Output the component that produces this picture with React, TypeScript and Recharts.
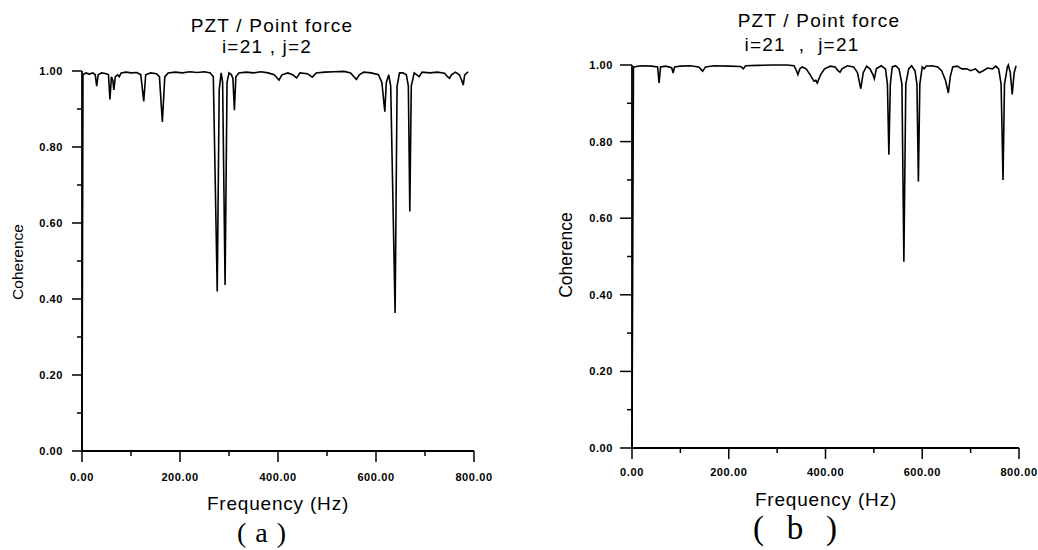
import React from 'react';
import { LineChart, Line, XAxis, YAxis } from 'recharts';

/* ─── Data ───────────────────────────────────────────── */

const X_TICKS = [0, 100, 200, 300, 400, 500, 600, 700, 800];
const Y_TICKS = [0, 0.1, 0.2, 0.3, 0.4, 0.5, 0.6, 0.7, 0.8, 0.9, 1.0];

// (a) i=21 , j=2
const freqA = [
	0, 2, 8, 15, 22, 27, 30, 33, 40, 50, 54, 57, 60, 63, 65, 68, 73, 76, 80, 90,
	100, 112, 120, 126, 130, 140, 152, 158, 164, 169, 176, 190, 205, 220, 235, 250,
	262, 268, 276, 280, 284, 287, 292, 296, 300, 305, 308, 311, 314, 320, 335, 350,
	365, 380, 392, 396, 402, 408, 420, 430, 438, 445, 460, 470, 478, 495, 515, 535,
	548, 555, 560, 566, 575, 590, 605, 612, 618, 621, 626, 630, 639, 643, 648, 655,
	662, 666, 669, 672, 678, 688, 694, 710, 725, 740, 746, 750, 754, 762, 770, 775,
	778, 781, 788,
];
const cohA = [
	0.0, 0.99, 0.995, 0.992, 0.995, 0.99, 0.96, 0.99, 0.995, 0.993, 0.99, 0.925, 0.985, 0.975, 0.95, 0.985, 0.99, 0.985, 0.995, 0.997,
	0.995, 0.996, 0.99, 0.92, 0.99, 0.995, 0.993, 0.985, 0.866, 0.985, 0.995, 0.997, 0.995, 0.998, 0.996, 0.998,
	0.995, 0.985, 0.42, 0.95, 0.995, 0.97, 0.437, 0.97, 0.995, 0.99, 0.98, 0.897, 0.985, 0.995, 0.997, 0.995,
	0.998, 0.995, 0.99, 0.985, 0.976, 0.99, 0.995, 0.99, 0.982, 0.995, 0.993, 0.984, 0.995, 0.997, 0.998, 0.999,
	0.995, 0.985, 0.978, 0.99, 0.997, 0.995, 0.99, 0.97, 0.893, 0.97, 0.99, 0.96, 0.363, 0.96, 0.995, 0.995,
	0.99, 0.96, 0.63, 0.96, 0.995, 0.985, 0.997, 0.995, 0.997, 0.994, 0.985, 0.981, 0.99, 0.997, 0.99, 0.975,
	0.963, 0.99, 0.998,
];

// (b) i=21 , j=21
const freqB = [
	0, 3, 20, 40, 53, 56, 59, 70, 82, 85, 88, 100, 120, 138, 146, 152, 170, 200, 225, 230,
	235, 260, 290, 320, 335, 340, 343, 347, 352, 360, 368, 376, 380, 383, 390, 398, 410, 420,
	426, 430, 434, 445, 458, 466, 473, 478, 485, 492, 498, 501, 505, 515, 524, 528, 531, 534,
	538, 545, 552, 558, 562, 566, 572, 578, 585, 589, 592, 595, 600, 604, 608, 620, 632, 640,
	648, 654, 658, 663, 672, 682, 692, 700, 710, 718, 726, 735, 745, 752, 758, 763, 767, 770,
	776, 778, 782, 786, 790, 794,
];
const cohB = [
	0.0, 0.995, 0.998, 0.997, 0.995, 0.953, 0.995, 0.997, 0.993, 0.979, 0.995, 0.997, 0.998, 0.995, 0.984, 0.995, 0.998, 0.997, 0.996, 0.99,
	0.998, 0.999, 1.0, 1.0, 0.998, 0.985, 0.975, 0.99, 0.995, 0.99, 0.975, 0.958, 0.96, 0.953, 0.975, 0.99, 0.997, 0.995,
	0.985, 0.981, 0.99, 0.998, 0.995, 0.98, 0.938, 0.98, 0.997, 0.99, 0.975, 0.964, 0.99, 0.998, 0.99, 0.95, 0.766, 0.95,
	0.995, 0.998, 0.99, 0.95, 0.486, 0.95, 0.99, 0.998, 0.985, 0.95, 0.696, 0.95, 0.995, 0.99, 0.997, 0.998, 0.995, 0.985,
	0.96, 0.927, 0.97, 0.995, 0.997, 0.99, 0.99, 0.985, 0.99, 0.98, 0.985, 0.992, 0.99, 0.997, 0.99, 0.95, 0.70, 0.95,
	0.995, 1.0, 0.98, 0.923, 0.98, 0.998,
];

const toRows = (f: number[], c: number[]) => f.map((v, i) => ({ f: v, c: c[i] }));

/* ─── Styling ─────────────────────────────────────────── */

const INK = '#000';
const TICK_FONT = {
	fontFamily: '"Liberation Sans", Arial, sans-serif',
	fontSize: 11,
	fontWeight: 700,
	letterSpacing: 0.6,
	fill: INK,
};

function makeXTick(labelDy: number) {
	return function XTick(props: any) {
		const { x, y, payload } = props;
		const v = payload.value as number;
		const major = v % 200 === 0;
		return (
			<g>
				<line x1={x} y1={y} x2={x} y2={y + (major ? 11 : 5)} stroke={INK} strokeWidth={1.5} />
				{major && (
					<text x={x} y={y + labelDy} textAnchor="middle" style={TICK_FONT}>
						{v.toFixed(2)}
					</text>
				)}
			</g>
		);
	};
}

function makeYTick(majorLen: number) {
	return function YTick(props: any) {
		const { x, y, payload } = props;
		const v = payload.value as number;
		const major = Math.round(v * 10) % 2 === 0;
		return (
			<g>
				<line x1={x - (major ? majorLen : 5)} y1={y} x2={x} y2={y} stroke={INK} strokeWidth={1.5} />
				{major && (
					<text x={x - 19} y={y + 4} textAnchor="end" style={TICK_FONT}>
						{v.toFixed(2)}
					</text>
				)}
			</g>
		);
	};
}

/* ─── One coherence panel ─────────────────────────────── */

function Panel({
	data,
	width,
	margin,
	yWidth,
	labelDy,
	majorLen,
}: {
	data: { f: number; c: number }[];
	width: number;
	margin: { top: number; right: number; bottom: number; left: number };
	yWidth: number;
	labelDy: number;
	majorLen: number;
}) {
	return (
		<LineChart width={width} height={550} data={data} margin={margin}>
			<XAxis
				dataKey="f"
				type="number"
				domain={[0, 800]}
				ticks={X_TICKS}
				interval={0}
				height={50}
				tickSize={0}
				tickMargin={0}
				tickLine={false}
				axisLine={{ stroke: INK, strokeWidth: 1.8 }}
				tick={makeXTick(labelDy)}
			/>
			<YAxis
				type="number"
				domain={[0, 1]}
				ticks={Y_TICKS}
				interval={0}
				width={yWidth}
				tickSize={0}
				tickMargin={0}
				tickLine={false}
				axisLine={{ stroke: INK, strokeWidth: 1.8 }}
				tick={makeYTick(majorLen)}
			/>
			<Line
				type="linear"
				dataKey="c"
				stroke={INK}
				strokeWidth={1.6}
				dot={false}
				isAnimationActive={false}
			/>
		</LineChart>
	);
}

/* ─── Absolutely placed text ──────────────────────────── */

function Txt({
	cx,
	cy,
	size,
	children,
	spacing = 0,
	rotate = 0,
	family = '"Liberation Sans", Arial, sans-serif',
}: {
	cx: number;
	cy: number;
	size: number;
	children: React.ReactNode;
	spacing?: number;
	rotate?: number;
	family?: string;
}) {
	return (
		<div
			style={{
				position: 'absolute',
				left: cx,
				top: cy,
				transform: `translate(-50%, -50%) rotate(${rotate}deg)`,
				fontFamily: family,
				fontSize: size,
				letterSpacing: spacing,
				lineHeight: 1,
				whiteSpace: 'pre',
				color: INK,
			}}
		>
			{children}
		</div>
	);
}

function Caption({ left, width, top, size, letter }: { left: number; width: number; top: number; size: number; letter: string }) {
	return (
		<div
			style={{
				position: 'absolute',
				left,
				top,
				width,
				display: 'flex',
				justifyContent: 'space-between',
				fontFamily: '"Liberation Serif", "DejaVu Serif", serif',
				fontSize: size,
				lineHeight: 1,
				transform: 'translateY(-58%)',
				color: INK,
			}}
		>
			<span>(</span>
			<span>{letter}</span>
			<span>)</span>
		</div>
	);
}

/* ─── Main export ─────────────────────────────────────── */

export default function App() {
	return (
		<div style={{ position: 'absolute', left: 0, top: 0, width: 1038, height: 550, background: '#fff', overflow: 'hidden' }}>
			{/* (a) */}
			<div style={{ position: 'absolute', left: 0, top: 0 }}>
				<Panel
					data={toRows(freqA, cohA)}
					width={520}
					margin={{ top: 71, right: 46, bottom: 49, left: 0 }}
					yWidth={82}
					labelDy={30}
					majorLen={10}
				/>
			</div>
			<Txt cx={272} cy={25} size={19} spacing={1.2}>PZT / Point force</Txt>
			<Txt cx={267} cy={46} size={19} spacing={1.2}>i=21 , j=2</Txt>
			<Txt cx={278} cy={503} size={19} spacing={0.8}>Frequency (Hz)</Txt>
			<Txt cx={18} cy={262} size={15.5} rotate={-90}>Coherence</Txt>
			<Caption left={237} width={49} top={535} size={28} letter="a" />

			{/* (b) */}
			<div style={{ position: 'absolute', left: 540, top: 0 }}>
				<Panel
					data={toRows(freqB, cohB)}
					width={498}
					margin={{ top: 65, right: 19, bottom: 52, left: 0 }}
					yWidth={92}
					labelDy={28}
					majorLen={12}
				/>
			</div>
			<Txt cx={819} cy={20} size={19} spacing={1.2}>PZT / Point force</Txt>
			<Txt cx={802} cy={44} size={19} spacing={1.2}>{'i=21  ,  j=21'}</Txt>
			<Txt cx={826} cy={499} size={19} spacing={0.8}>Frequency (Hz)</Txt>
			<Txt cx={567} cy={255} size={17.5} rotate={-90}>Coherence</Txt>
			<Caption left={753} width={84} top={531} size={33} letter="b" />
		</div>
	);
}
